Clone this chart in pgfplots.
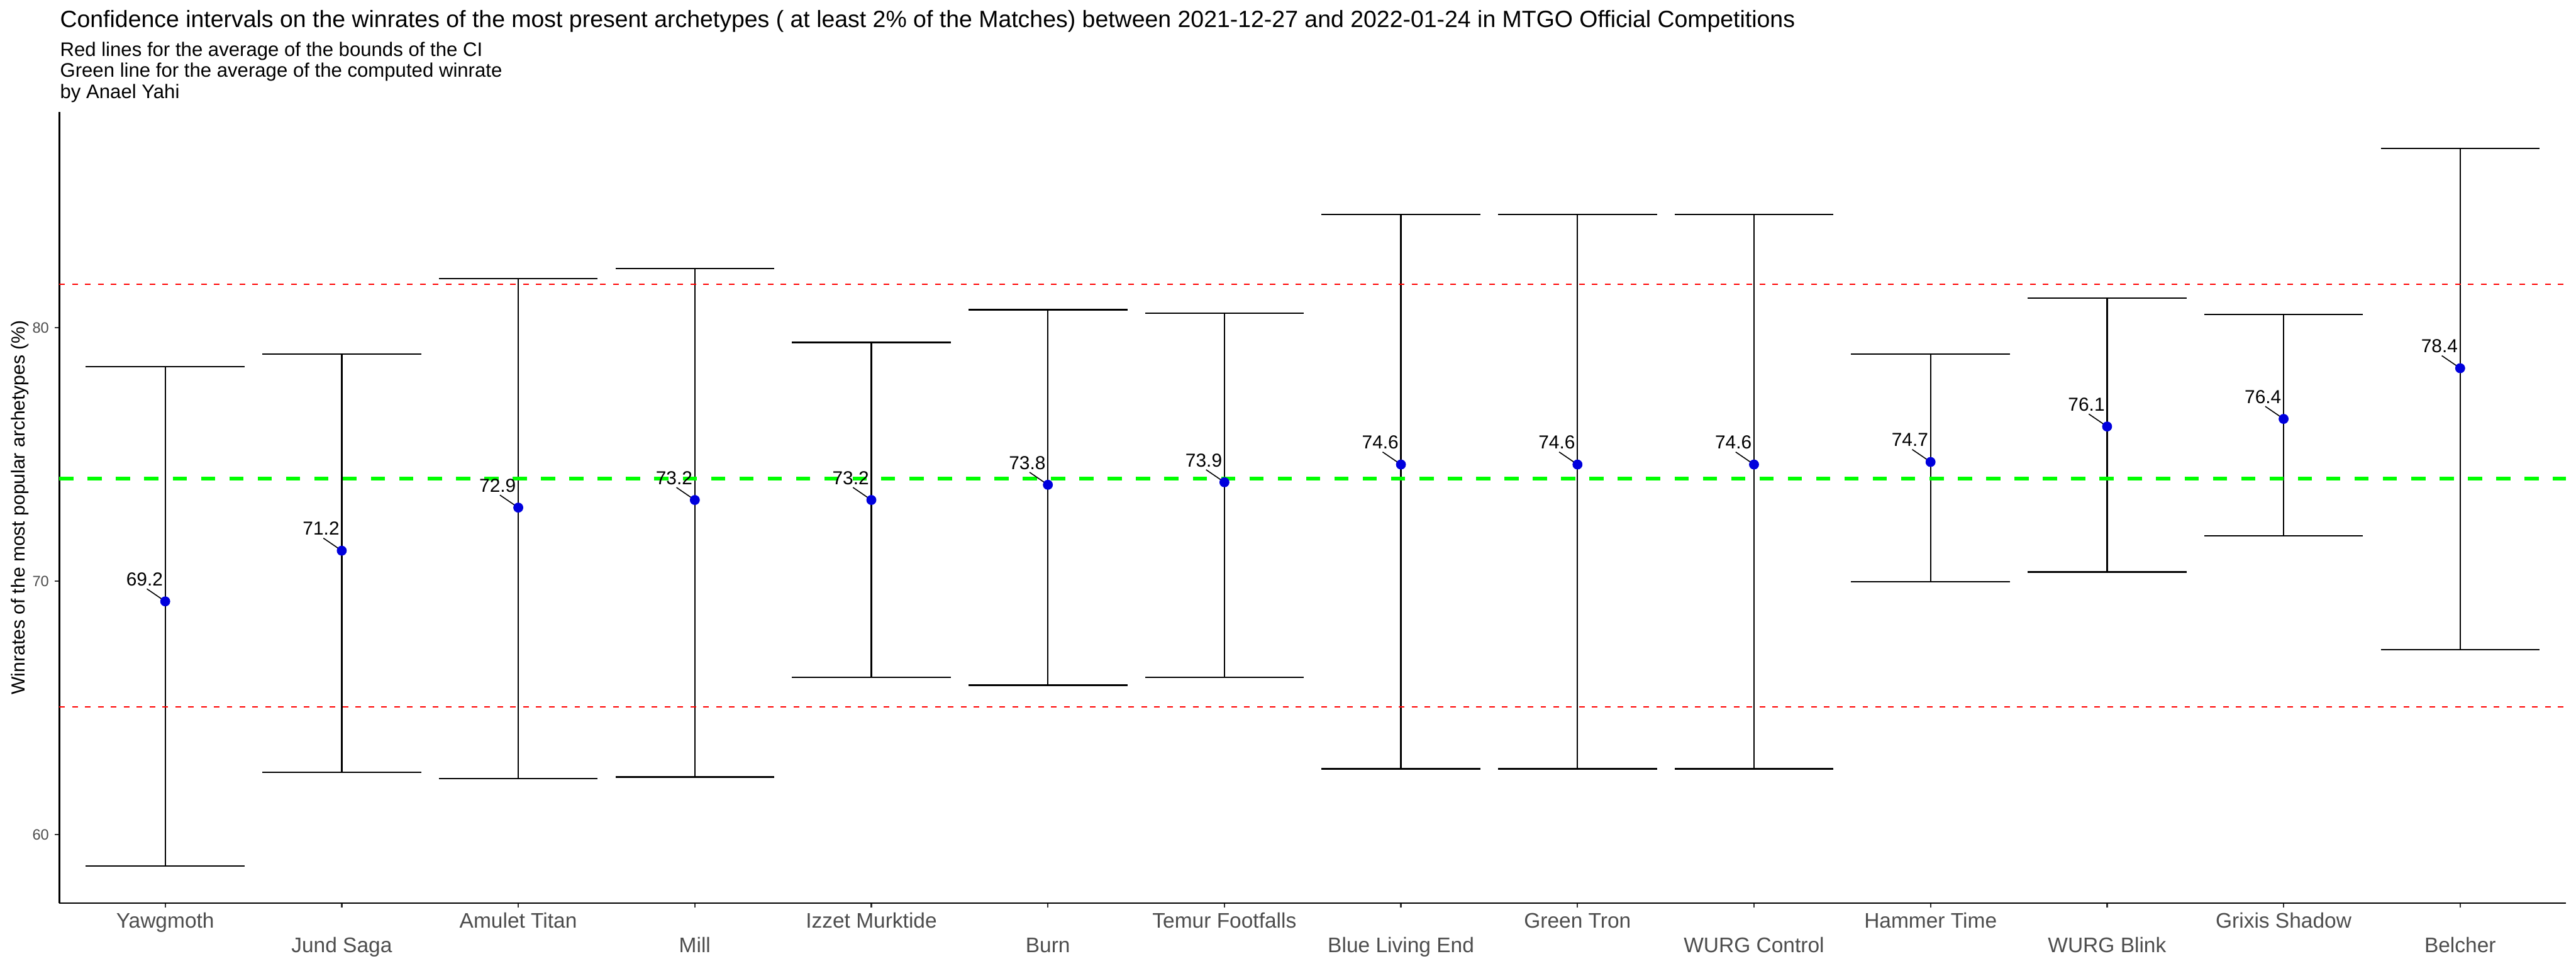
\documentclass[border=0pt]{standalone}
\usepackage{fontspec}
\setmainfont{Liberation Sans}
\usepackage{pgfplots}
\pgfplotsset{compat=1.18}
\usepackage{pgfplotstable}
\definecolor{tickgray}{HTML}{4D4D4D}
\definecolor{ticklinegray}{HTML}{333333}
\definecolor{ggblue}{HTML}{0000DD}
\definecolor{gggreen}{HTML}{00FF00}
\definecolor{ggred}{HTML}{FF0000}

\pgfplotstableread{
x lo y hi lab
1 58.75 69.2 78.47 69.2
2 62.46 71.2 78.95 71.2
3 62.20 72.9 81.94 72.9
4 62.27 73.2 82.33 73.2
5 66.21 73.2 79.42 73.2
6 65.89 73.8 80.71 73.8
7 66.21 73.9 80.58 73.9
8 62.59 74.6 84.47 74.6
9 62.59 74.6 84.47 74.6
10 62.59 74.6 84.47 74.6
11 69.97 74.7 78.96 74.7
12 70.36 76.1 81.17 76.1
13 71.78 76.4 80.53 76.4
14 67.29 78.4 87.07 78.4
}\ci

\newcommand\two[1]{\lower18pt\hbox{#1}}

\begin{document}
\begin{tikzpicture}
\path[use as bounding box] (0,0) rectangle (1920pt,720pt);
\node[anchor=base west, inner sep=0pt, font=\fontsize{17.55pt}{20pt}\selectfont] at (44.6pt,699.6pt) {Confidence intervals on the winrates of the most present archetypes ( at least 2\% of the Matches) between 2021-12-27 and 2022-01-24 in MTGO Official Competitions};
\node[anchor=base west, inner sep=0pt, font=\fontsize{14.6pt}{17pt}\selectfont] at (44.6pt,678pt) {Red lines for the average of the bounds of the CI};
\node[anchor=base west, inner sep=0pt, font=\fontsize{14.6pt}{17pt}\selectfont] at (44.6pt,662.4pt) {Green line for the average of the computed winrate};
\node[anchor=base west, inner sep=0pt, font=\fontsize{14.6pt}{17pt}\selectfont] at (44.6pt,646.8pt) {by Anael Yahi};
\begin{axis}[
  at={(44.2pt,46.8pt)}, anchor=south west,
  scale only axis, width=1868.4pt, height=589.9pt,
  xmin=0.4, xmax=14.6, ymin=57.29, ymax=88.52,
  axis lines=left,
  axis line style={-, line width=1.2pt, black},
  tick align=outside, major tick length=3.4pt,
  tick style={color=ticklinegray, line width=1.1pt},
  xtick={1,...,14},
  xticklabels={Yawgmoth,\two{Jund Saga},Amulet Titan,\two{Mill},Izzet Murktide,\two{Burn},Temur Footfalls,\two{Blue Living End},Green Tron,\two{WURG Control},Hammer Time,\two{WURG Blink},Grixis Shadow,\two{Belcher}},
  xticklabel style={anchor=base, inner sep=0pt, yshift=-15.1pt, text=tickgray, font=\fontsize{15.7pt}{18pt}\selectfont},
  ytick={60,70,80},
  yticklabel style={anchor=east, inner sep=0pt, xshift=-4.1pt, text=tickgray, font=\fontsize{11.1pt}{13pt}\selectfont},
  /pgf/number format/assume math mode=true,
  ylabel={Winrates of the most popular archetypes (\%)},
  every axis y label/.style={at={(axis description cs:0,0.5)}, xshift=-25.7pt, rotate=90, anchor=base, inner sep=0pt, font=\fontsize{14.1pt}{17pt}\selectfont},
  clip=false,
]
% vertical CI lines
\addplot[only marks, mark=none, error bars/.cd, y dir=both, y explicit, error mark=none, error bar style={line width=1.1pt, black}]
  table[x=x, y=y, y error plus expr=\thisrow{hi}-\thisrow{y}, y error minus expr=\thisrow{y}-\thisrow{lo}] {\ci};
% whiskers
\addplot[only marks, mark=-, mark size=59.2pt, mark options={line width=1.05pt, black}] table[x=x, y=hi] {\ci};
\addplot[only marks, mark=-, mark size=59.2pt, mark options={line width=1.05pt, black}] table[x=x, y=lo] {\ci};
% reference lines
\addplot[ggred, line width=1.1pt, dash pattern=on 4.2pt off 5.4pt] coordinates {(0.4,81.71) (14.6,81.71)};
\addplot[ggred, line width=1.1pt, dash pattern=on 4.2pt off 5.4pt] coordinates {(0.4,65.03) (14.6,65.03)};
\addplot[gggreen, line width=2.56pt, dash pattern=on 10.56pt off 10.56pt] coordinates {(0.4,74.05) (14.6,74.05)};
% connectors
\addplot[black, line width=0.75pt, -, quiver={u=-0.104, v=0.495}] table[x=x, y=y] {\ci};
% points and labels
\addplot[only marks, mark=*, mark size=3.5pt, mark options={ggblue, draw=ggblue, fill=ggblue},
  point meta=explicit symbolic,
  nodes near coords,
  every node near coord/.append style={anchor=base, inner sep=0pt, text=black, xshift=-15.4pt, yshift=11.6pt, font=\fontsize{14pt}{16pt}\selectfont}]
  table[x=x, y=y, meta=lab] {\ci};
\end{axis}
\end{tikzpicture}
\end{document}
